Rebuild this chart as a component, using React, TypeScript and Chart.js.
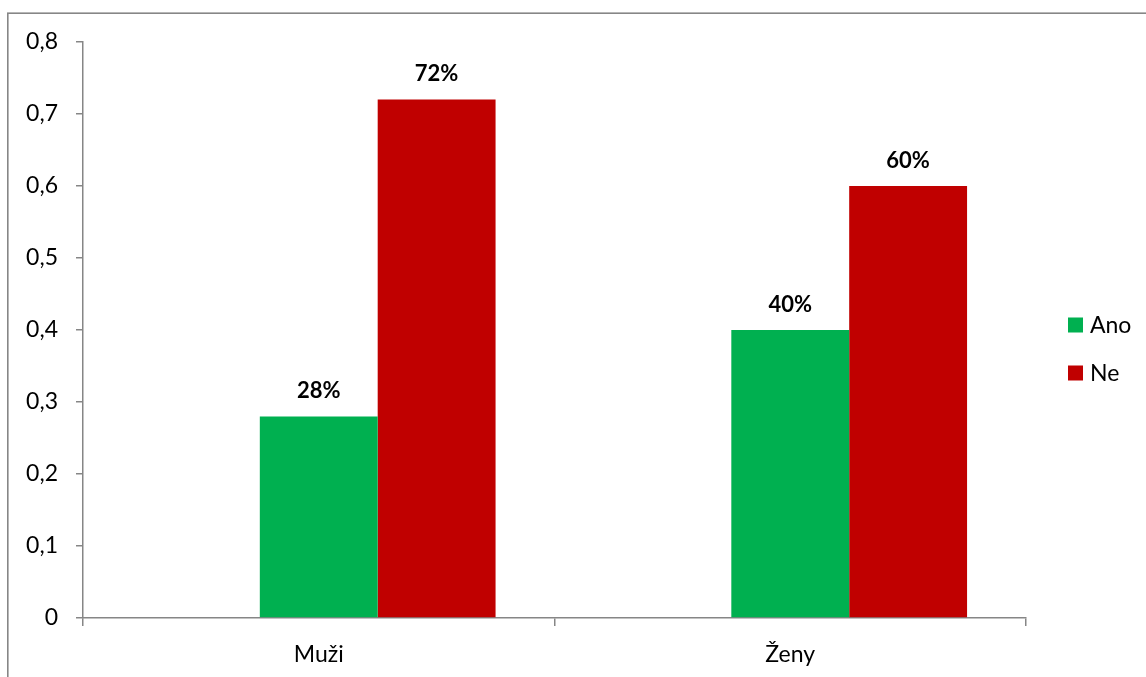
import React, { useEffect, useRef } from "react";
import { Chart, registerables } from "chart.js";

Chart.register(...registerables);

// Survey answers by gender (share of respondents)
const categories = ["Muži", "Ženy"];
const seriesNames = ["Ano", "Ne"];
const anoValues = [0.28, 0.4];
const neValues = [0.72, 0.6];
// Empty leading series slot (no values), kept so each group reserves three bar positions
const emptyValues = [null, null];
const seriesColors = ["#00B050", "#C00000"];
const yTicks = [0, 0.1, 0.2, 0.3, 0.4, 0.5, 0.6, 0.7, 0.8];

const FONT = "Lato, 'Open Sans', sans-serif";
const AXIS_GRAY = "#868686";

const formatTick = (v: number) => (v === 0 ? "0" : v.toFixed(1).replace(".", ","));

// Outer chart frame (only top and left edges fall inside the page)
const framePlugin = {
  id: "frame",
  beforeDraw(chart: any) {
    const ctx = chart.ctx;
    ctx.save();
    ctx.strokeStyle = AXIS_GRAY;
    ctx.lineWidth = 1.6;
    ctx.strokeRect(7.8, 13.2, chart.width + 100, chart.height + 100);
    ctx.restore();
  },
};

// Percentage labels above each bar
const valueLabelPlugin = {
  id: "valueLabels",
  afterDatasetsDraw(chart: any) {
    const ctx = chart.ctx;
    ctx.save();
    ctx.font = `bold 22px ${FONT}`;
    ctx.fillStyle = "#000";
    ctx.textAlign = "center";
    ctx.textBaseline = "alphabetic";
    chart.data.datasets.forEach((ds: any, di: number) => {
      const meta = chart.getDatasetMeta(di);
      meta.data.forEach((bar: any, i: number) => {
        const v = ds.data[i];
        if (v === null || v === undefined) return;
        ctx.fillText(`${Math.round(v * 100)}%`, bar.x, bar.y - 18.5);
      });
    });
    ctx.restore();
  },
};

// Legend on the right: colour square + series name
const sideLegendPlugin = {
  id: "sideLegend",
  afterDraw(chart: any) {
    const ctx = chart.ctx;
    const area = chart.chartArea;
    const x = area.right + 42;
    const startY = (area.top + area.bottom) / 2 - 5;
    const gap = 48;
    ctx.save();
    ctx.font = `23px ${FONT}`;
    ctx.textAlign = "left";
    ctx.textBaseline = "middle";
    const shown = chart.data.datasets.filter((ds: any) => ds.label);
    shown.forEach((ds: any, i: number) => {
      const cy = startY + i * gap;
      ctx.fillStyle = ds.backgroundColor;
      ctx.fillRect(x, cy - 7.5, 15, 15);
      ctx.fillStyle = "#000";
      ctx.fillText(ds.label, x + 22, cy + 1);
    });
    ctx.restore();
  },
};

export default function App() {
  const canvasRef = useRef<HTMLCanvasElement | null>(null);

  useEffect(() => {
    if (!canvasRef.current) return;
    const chart = new Chart(canvasRef.current, {
      type: "bar",
      data: {
        labels: categories,
        datasets: [
          { label: "", data: emptyValues, backgroundColor: "rgba(0,0,0,0)" },
          { label: seriesNames[0], data: anoValues, backgroundColor: seriesColors[0] },
          { label: seriesNames[1], data: neValues, backgroundColor: seriesColors[1] },
        ],
      },
      options: {
        animation: false,
        responsive: true,
        maintainAspectRatio: false,
        layout: { padding: { top: 42, left: 0, right: 120, bottom: 0 } },
        datasets: { bar: { categoryPercentage: 0.75, barPercentage: 1 } },
        plugins: {
          legend: { display: false },
          tooltip: { enabled: false },
        },
        scales: {
          x: {
            grid: {
              display: true,
              drawOnChartArea: false,
              drawTicks: true,
              tickLength: 8,
              color: AXIS_GRAY,
              lineWidth: 1.5,
              offset: true,
            },
            border: { display: true, color: AXIS_GRAY, width: 1.5 },
            ticks: { color: "#000", font: { family: FONT, size: 23 }, padding: 15 },
            afterFit(scale: any) {
              scale.height = 59;
            },
          },
          y: {
            min: 0,
            max: 0.8,
            afterBuildTicks(scale: any) {
              scale.ticks = yTicks.map((v) => ({ value: v }));
            },
            grid: {
              display: true,
              drawOnChartArea: false,
              drawTicks: true,
              tickLength: 7,
              color: AXIS_GRAY,
              lineWidth: 1.5,
            },
            border: { display: true, color: AXIS_GRAY, width: 1.5 },
            ticks: {
              color: "#000",
              font: { family: FONT, size: 23 },
              padding: 18,
              callback: (v: any) => formatTick(Number(v)),
            },
            afterFit(scale: any) {
              scale.width = 83;
            },
          },
        },
      },
      plugins: [framePlugin, valueLabelPlugin, sideLegendPlugin],
    });
    return () => chart.destroy();
  }, []);

  return (
    <div style={{ position: "fixed", left: 0, top: 0, width: 1146, height: 677, background: "#fff" }}>
      <canvas ref={canvasRef} />
    </div>
  );
}
